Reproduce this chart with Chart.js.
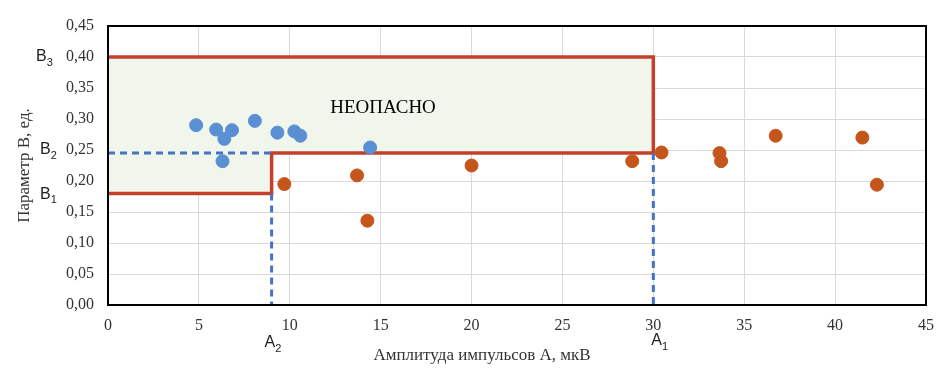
<!DOCTYPE html>
<html>
<head>
<meta charset="utf-8">
<script src="https://cdn.jsdelivr.net/npm/chart.js@4/dist/chart.umd.min.js"></script>
<style>
  html, body { margin: 0; padding: 0; background: #fff; }
  #wrap { width: 945px; height: 370px; }
</style>
</head>
<body>
<div id="wrap"><canvas id="chart" width="945" height="370"></canvas></div>
<script>
// безопасные точки (синие)
const safeA = [4.85, 5.95, 6.4, 6.82, 6.3, 8.08, 9.32, 10.25, 10.58, 14.42];
const safeB = [0.290, 0.283, 0.268, 0.282, 0.232, 0.297, 0.278, 0.280, 0.273, 0.254];
// опасные точки (оранжевые)
const dangerA = [9.7, 13.7, 14.27, 20.0, 28.84, 30.45, 33.64, 33.73, 36.73, 41.5, 42.3];
const dangerB = [0.195, 0.209, 0.136, 0.225, 0.232, 0.246, 0.245, 0.232, 0.273, 0.270, 0.194];

// граница зоны "НЕОПАСНО"
const zoneA = [0, 9, 9, 30, 30, 0];
const zoneB = [0.18, 0.18, 0.245, 0.245, 0.40, 0.40];

// уровни
const A1 = 30, A2 = 9;
const B1 = 0.18, B2 = 0.245, B3 = 0.40;

const xTicks = [0, 5, 10, 15, 20, 25, 30, 35, 40, 45];
const yTicks = [0, 0.05, 0.10, 0.15, 0.20, 0.25, 0.30, 0.35, 0.40, 0.45];

const toPts = (xs, ys) => xs.map((x, i) => ({ x: x, y: ys[i] }));

const serif = "'Liberation Serif', 'Times New Roman', serif";
const sans = "'Liberation Sans', Arial, sans-serif";

const overlay = {
  id: "overlay",
  afterDatasetsDraw(chart) {
    const ctx = chart.ctx;
    const a = chart.chartArea;
    const xs = chart.scales.x, ys = chart.scales.y;
    ctx.save();
    ctx.strokeStyle = "#000";
    ctx.lineWidth = 2;
    ctx.strokeRect(a.left, a.top, a.right - a.left, a.bottom - a.top);

    ctx.fillStyle = "#000";
    ctx.font = "19px " + serif;
    ctx.textAlign = "center";
    ctx.textBaseline = "middle";
    ctx.fillText("НЕОПАСНО", 383, 108);

    ctx.fillStyle = "#333";
    ctx.font = "17px " + serif;
    ctx.fillText("Амплитуда импульсов А, мкВ", 482, 356);
    ctx.save();
    ctx.translate(25, (a.top + a.bottom) / 2);
    ctx.rotate(-Math.PI / 2);
    ctx.fillText("Параметр В, ед.", 0, 0);
    ctx.restore();

    // подписи уровней с индексами
    const sub = (main, idx, x, y) => {
      ctx.textAlign = "left";
      ctx.font = "16px " + sans;
      ctx.fillText(main, x, y);
      const w = ctx.measureText(main).width;
      ctx.font = "11px " + sans;
      ctx.fillText(idx, x + w, y + 6);
    };
    ctx.fillStyle = "#222";
    sub("B", "3", 36, ys.getPixelForValue(B3));
    sub("B", "2", 40, ys.getPixelForValue(0.25));
    sub("B", "1", 40, ys.getPixelForValue(B1) + 1);
    sub("A", "2", xs.getPixelForValue(A2) - 7, 343);
    sub("A", "1", xs.getPixelForValue(A1) - 2, 341);
    ctx.restore();
  }
};

new Chart(document.getElementById("chart"), {
  type: "scatter",
  data: {
    datasets: [
      {
        data: toPts(safeA, safeB),
        backgroundColor: "#5B8FD4",
        borderColor: "#5B8FD4",
        pointRadius: 6.5,
        order: 0,
      },
      {
        data: toPts(dangerA, dangerB),
        backgroundColor: "#C5561B",
        borderColor: "#C5561B",
        pointRadius: 6.5,
        order: 0,
      },
      {
        data: toPts(zoneA, zoneB),
        showLine: true,
        pointRadius: 0,
        borderColor: "#C4402A",
        borderWidth: 3.5,
        backgroundColor: "#F0F6EC",
        fill: "shape",
        order: 2,
      },
      {
        data: [{ x: 0, y: B2 }, { x: A2, y: B2 }],
        showLine: true,
        pointRadius: 0,
        borderColor: "#4472C4",
        borderWidth: 3,
        borderDash: [7, 5],
        order: 1,
      },
      {
        data: [{ x: A2, y: B1 }, { x: A2, y: 0 }],
        showLine: true,
        pointRadius: 0,
        borderColor: "#4472C4",
        borderWidth: 3,
        borderDash: [7, 5],
        order: 1,
      },
      {
        data: [{ x: A1, y: B2 }, { x: A1, y: 0 }],
        showLine: true,
        pointRadius: 0,
        borderColor: "#4472C4",
        borderWidth: 3,
        borderDash: [7, 5],
        order: 1,
      },
    ],
  },
  options: {
    responsive: false,
    animation: false,
    layout: { padding: { top: 26, right: 13, left: 0, bottom: 0 } },
    plugins: {
      legend: { display: false },
      tooltip: { enabled: false },
    },
    scales: {
      x: {
        type: "linear",
        min: 0,
        max: 45,
        afterBuildTicks: (s) => { s.ticks = xTicks.map((v) => ({ value: v })); },
        afterFit: (s) => { s.height = 65; },
        grid: { color: "#d9d9d9", drawTicks: false },
        border: { display: false },
        ticks: {
          padding: 11,
          color: "#333",
          font: { family: serif, size: 16 },
        },
      },
      y: {
        type: "linear",
        min: 0,
        max: 0.45,
        afterBuildTicks: (s) => { s.ticks = yTicks.map((v) => ({ value: v })); },
        afterFit: (s) => { s.width = 108; },
        grid: { color: "#d9d9d9", drawTicks: false },
        border: { display: false },
        ticks: {
          padding: 14,
          color: "#333",
          font: { family: serif, size: 16 },
          callback: (v) => v.toFixed(2).replace(".", ","),
        },
      },
    },
  },
  plugins: [overlay],
});
</script>
</body>
</html>
